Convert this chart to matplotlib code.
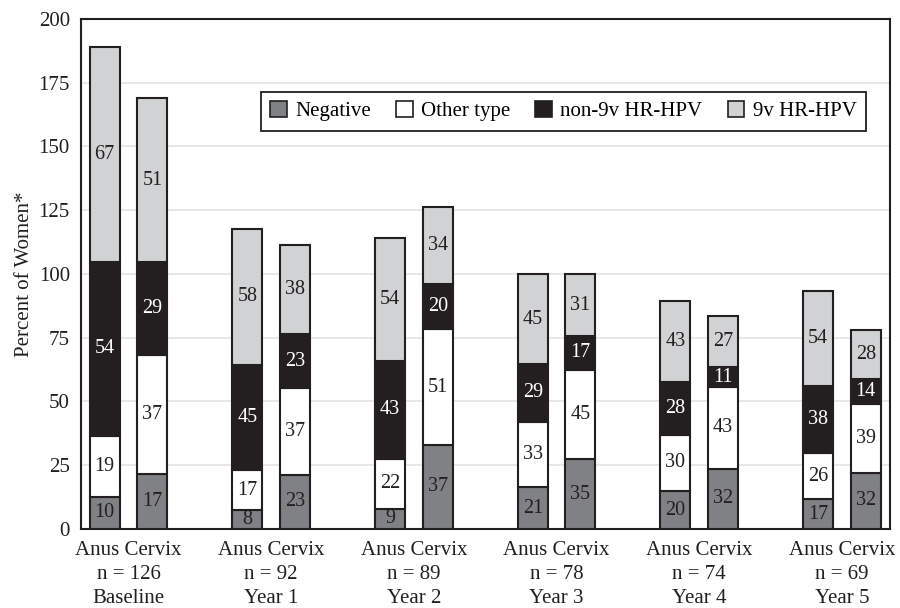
import matplotlib
matplotlib.use("Agg")
import matplotlib.pyplot as plt
from matplotlib.patches import Patch
import numpy as np

plt.rcParams['font.family'] = ['Liberation Serif', 'DejaVu Serif']

groups = ['Baseline', 'Year 1', 'Year 2', 'Year 3', 'Year 4', 'Year 5']
n_women = [126, 92, 89, 78, 74, 69]

# percentages printed in each segment
anus_neg = [10, 8, 9, 21, 20, 17]
anus_other = [19, 17, 22, 33, 30, 26]
anus_non9v = [54, 45, 43, 29, 28, 38]
anus_9v = [67, 58, 54, 45, 43, 54]

cervix_neg = [17, 23, 37, 35, 32, 32]
cervix_other = [37, 37, 51, 45, 43, 39]
cervix_non9v = [29, 23, 20, 17, 11, 14]
cervix_9v = [51, 38, 34, 31, 27, 28]

categories = ['Negative', 'Other type', 'non-9v HR-HPV', '9v HR-HPV']
colors = ['#808184', '#ffffff', '#231f20', '#d1d2d4']
text_colors = ['#231f20', '#231f20', '#ffffff', '#231f20']


def main():
    fig = plt.figure(figsize=(9, 6.08), dpi=100)
    ax = fig.add_axes([0.09, 0.13, 0.899, 0.839])

    x = np.arange(len(groups))
    width = 0.21
    offset = 0.167

    sites = [
        (x - offset, [anus_neg, anus_other, anus_non9v, anus_9v]),
        (x + offset, [cervix_neg, cervix_other, cervix_non9v, cervix_9v]),
    ]
    n = np.array(n_women)
    for xpos, series in sites:
        bottom = np.zeros(len(groups))
        for k, pct in enumerate(series):
            # bar heights are number of women = pct * n / 100
            h = np.array(pct) * n / 100.0
            ax.bar(xpos, h, width, bottom=bottom, color=colors[k],
                   edgecolor='#231f20', linewidth=1.5, zorder=3)
            for xi, b, hi, p in zip(xpos, bottom, h, pct):
                ax.text(xi, b + hi / 2, str(p), ha='center', va='center',
                        fontsize=14.5, color=text_colors[k], zorder=4)
            bottom = bottom + h

    ax.set_xlim(-0.333, 5.337)
    ax.set_ylim(0, 200)
    ax.set_yticks(range(0, 201, 25))
    ax.set_xticks(x)
    ax.set_xticklabels([f'Anus Cervix\nn = {nn}\n{g}' for nn, g in zip(n_women, groups)],
                       linespacing=1.35)
    ax.tick_params(axis='both', length=0, labelsize=15, colors='#231f20')
    ax.tick_params(axis='y', pad=8)
    ax.tick_params(axis='x', pad=9)
    ax.grid(axis='y', color='#e6e6e6', linewidth=1.3, zorder=0)
    ax.set_axisbelow(True)
    for s in ax.spines.values():
        s.set_linewidth(1.5)
        s.set_color('#231f20')
    ax.set_ylabel('Percent of Women*', fontsize=15, color='#231f20', labelpad=3)

    handles = [Patch(facecolor=c, edgecolor='#231f20', linewidth=1.2) for c in colors]
    leg = ax.legend(handles, categories, ncol=4, loc='upper right',
                    bbox_to_anchor=(0.970, 0.857), fontsize=15, frameon=True,
                    fancybox=False, edgecolor='#231f20', framealpha=1,
                    handlelength=0.8, handleheight=0.8, handletextpad=0.4,
                    columnspacing=1.2, borderpad=0.45, borderaxespad=0)
    leg.get_frame().set_linewidth(1.3)

    fig.savefig('out.png', dpi=100)


if __name__ == "__main__":
    main()
